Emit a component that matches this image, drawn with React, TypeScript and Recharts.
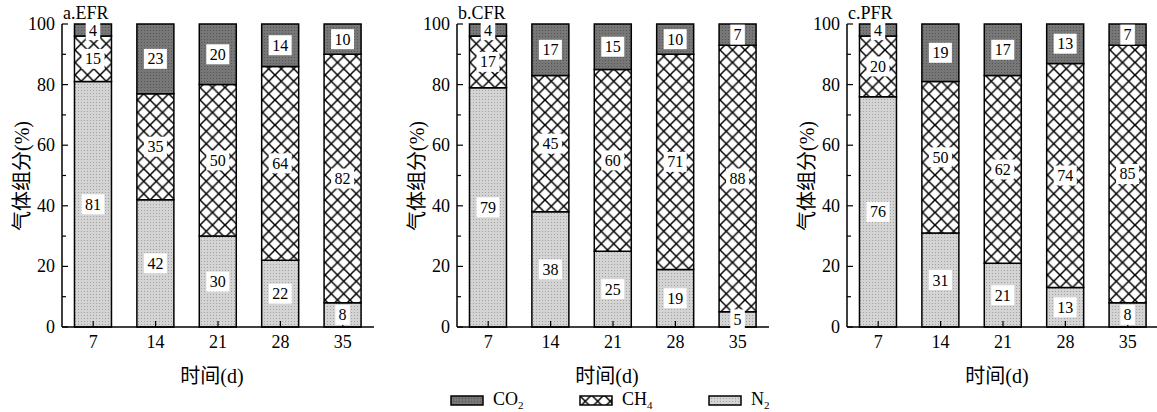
import React from "react";
import { Bar, BarChart, LabelList, XAxis, YAxis } from "recharts";

const days = ["7", "14", "21", "28", "35"];

const efrN2 = [81, 42, 30, 22, 8];
const efrCH4 = [15, 35, 50, 64, 82];
const efrCO2 = [4, 23, 20, 14, 10];

const cfrN2 = [79, 38, 25, 19, 5];
const cfrCH4 = [17, 45, 60, 71, 88];
const cfrCO2 = [4, 17, 15, 10, 7];

const pfrN2 = [76, 31, 21, 13, 8];
const pfrCH4 = [20, 50, 62, 74, 85];
const pfrCO2 = [4, 19, 17, 13, 7];

const yTicks = [0, 10, 20, 30, 40, 50, 60, 70, 80, 90, 100];

const SERIF = "'Liberation Serif', 'Times New Roman', 'Noto Sans CJK SC', serif";
const serifStyle = { fontFamily: SERIF };

const makeRows = (n2: number[], ch4: number[], co2: number[]) =>
  days.map((d, i) => ({ day: d, N2: n2[i], CH4: ch4[i], CO2: co2[i] }));

const panels = [
  { id: "a", title: "a.EFR", rows: makeRows(efrN2, efrCH4, efrCO2), plotLeft: 62 },
  { id: "b", title: "b.CFR", rows: makeRows(cfrN2, cfrCH4, cfrCO2), plotLeft: 457 },
  { id: "c", title: "c.PFR", rows: makeRows(pfrN2, pfrCH4, pfrCO2), plotLeft: 847 },
];

const PLOT_W = 312;
const PLOT_TOP = 24;
const PLOT_BOTTOM = 327;

const Patterns = ({ id }: { id: string }) => (
  <defs>
    <pattern id={`ch4-${id}`} width={12.5} height={12.5} patternUnits="userSpaceOnUse">
      <rect width={12.5} height={12.5} fill="#fff" />
      <path d="M-1,-1L13.5,13.5M13.5,-1L-1,13.5" stroke="#000" strokeWidth={1.5} />
    </pattern>
    <pattern id={`n2-${id}`} width={3} height={3} patternUnits="userSpaceOnUse">
      <rect width={3} height={3} fill="#d4d4d4" />
      <rect width={1} height={1} fill="#a0a0a0" />
    </pattern>
    <pattern id={`co2-${id}`} width={3} height={3} patternUnits="userSpaceOnUse">
      <rect width={3} height={3} fill="#777" />
      <rect width={1} height={1} fill="#555" />
    </pattern>
  </defs>
);

const ValueLabel = (props: any) => {
  const x = Number(props.x);
  const y = Number(props.y);
  const w = Number(props.width);
  const h = Number(props.height);
  const txt = String(props.value);
  const cx = x + w / 2;
  const cy = y + h / 2;
  const bw = txt.length * 8.5 + 6;
  return (
    <g>
      <rect x={cx - bw / 2} y={cy - 10} width={bw} height={20} fill="#fff" />
      <text x={cx} y={cy + 5.5} textAnchor="middle" fontSize={16} style={serifStyle} fill="#000">
        {txt}
      </text>
    </g>
  );
};

const YTick = (props: any) => {
  const { x, y, payload } = props;
  const major = payload.value % 20 === 0;
  return (
    <g>
      <line x1={x} x2={x + (major ? 6 : 4)} y1={y} y2={y} stroke="#000" strokeWidth={1.2} />
      {major && (
        <text x={x - 7} y={y + 6} textAnchor="end" fontSize={18} style={serifStyle} fill="#000">
          {payload.value}
        </text>
      )}
    </g>
  );
};

const XTick = (props: any) => {
  const { x, y, payload } = props;
  return (
    <g>
      <line x1={x} x2={x} y1={y} y2={y - 6} stroke="#000" strokeWidth={1.2} />
      <text x={x} y={y + 21} textAnchor="middle" fontSize={18} style={serifStyle} fill="#000">
        {payload.value}
      </text>
    </g>
  );
};

const Panel = ({ id, rows }: { id: string; rows: any[] }) => (
  <BarChart
    width={390}
    height={360}
    data={rows}
    barCategoryGap="20%"
    margin={{ top: PLOT_TOP, right: 16, bottom: 3, left: 22 }}
  >
    <Patterns id={id} />
    <XAxis
      dataKey="day"
      height={30}
      axisLine={{ stroke: "#000", strokeWidth: 1.5 }}
      tickLine={false}
      tickSize={0}
      tickMargin={0}
      tick={<XTick />}
      interval={0}
    />
    <XAxis
      xAxisId="top"
      orientation="top"
      dataKey="day"
      height={0}
      tick={false}
      tickLine={false}
      axisLine={{ stroke: "#000", strokeWidth: 1.5 }}
    />
    <YAxis
      width={40}
      domain={[0, 100]}
      ticks={yTicks}
      interval={0}
      axisLine={{ stroke: "#000", strokeWidth: 1.5 }}
      tickLine={false}
      tickSize={0}
      tickMargin={0}
      tick={<YTick />}
    />
    <YAxis
      yAxisId="right"
      orientation="right"
      width={0}
      domain={[0, 100]}
      tick={false}
      tickLine={false}
      axisLine={{ stroke: "#000", strokeWidth: 1.5 }}
    />
    <Bar dataKey="N2" stackId="s" fill={`url(#n2-${id})`} stroke="#000" strokeWidth={1.5} isAnimationActive={false}>
      <LabelList dataKey="N2" content={<ValueLabel />} />
    </Bar>
    <Bar dataKey="CH4" stackId="s" fill={`url(#ch4-${id})`} stroke="#000" strokeWidth={1.5} isAnimationActive={false}>
      <LabelList dataKey="CH4" content={<ValueLabel />} />
    </Bar>
    <Bar dataKey="CO2" stackId="s" fill={`url(#co2-${id})`} stroke="#000" strokeWidth={1.5} isAnimationActive={false}>
      <LabelList dataKey="CO2" content={<ValueLabel />} />
    </Bar>
  </BarChart>
);

const Swatch = ({ kind }: { kind: string }) => (
  <svg width={34} height={11} style={{ display: "block" }}>
    <Patterns id={`lg-${kind}`} />
    <rect
      x={1}
      y={1}
      width={32}
      height={9}
      fill={`url(#${kind}-lg-${kind})`}
      stroke="#000"
      strokeWidth={1.5}
    />
  </svg>
);

const legendItems = [
  { kind: "co2", name: "CO", sub: "2", left: 450 },
  { kind: "ch4", name: "CH", sub: "4", left: 579 },
  { kind: "n2", name: "N", sub: "2", left: 708 },
];

export default function App() {
  return (
    <div
      style={{
        position: "absolute",
        left: 0,
        top: 0,
        width: 1157,
        height: 412,
        overflow: "hidden",
        background: "#fff",
        fontFamily: SERIF,
        color: "#000",
      }}
    >
      {panels.map((p) => (
        <React.Fragment key={p.id}>
          <div style={{ position: "absolute", left: p.plotLeft - 62, top: 0 }}>
            <Panel id={p.id} rows={p.rows} />
          </div>
          <div style={{ position: "absolute", left: p.plotLeft + 1, top: 4, fontSize: 18, lineHeight: "18px" }}>
            {p.title}
          </div>
          <div
            style={{
              position: "absolute",
              left: p.plotLeft - 40 - 100,
              top: (PLOT_TOP + PLOT_BOTTOM) / 2 - 12,
              width: 200,
              height: 24,
              lineHeight: "24px",
              fontSize: 20,
              textAlign: "center",
              transform: "rotate(-90deg)",
            }}
          >
            气体组分(%)
          </div>
          <div
            style={{
              position: "absolute",
              left: p.plotLeft + PLOT_W / 2 - 6 - 100,
              top: 364,
              width: 200,
              fontSize: 20,
              lineHeight: "24px",
              textAlign: "center",
            }}
          >
            时间(d)
          </div>
        </React.Fragment>
      ))}
      {legendItems.map((it) => (
        <div
          key={it.kind}
          style={{ position: "absolute", left: it.left, top: 390, display: "flex", alignItems: "center" }}
        >
          <Swatch kind={it.kind} />
          <span style={{ marginLeft: 9, fontSize: 18, lineHeight: "18px" }}>
            {it.name}
            <sub style={{ fontSize: 11, lineHeight: "11px", verticalAlign: "-4px" }}>{it.sub}</sub>
          </span>
        </div>
      ))}
    </div>
  );
}
